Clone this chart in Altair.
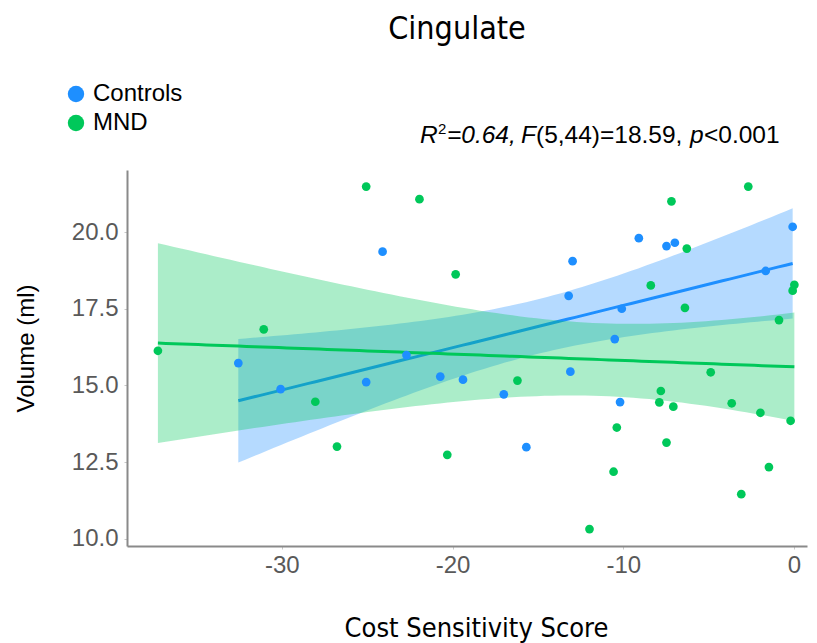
import altair as alt
import numpy as np
import pandas as pd

# ---- data ----
controls_x = [-32.55, -30.07, -25.06, -24.10, -22.70, -20.72, -19.39, -17.00, -15.68, -13.10,
              -13.20, -12.97, -10.09, -10.50, -10.19, -9.09, -7.47, -6.98, -1.66, -0.08]
controls_y = [15.73, 14.88, 15.11, 19.36, 15.99, 15.29, 15.19, 14.71, 12.99, 15.45,
              17.92, 19.05, 17.50, 16.51, 14.46, 19.80, 19.54, 19.65, 18.73, 20.17]
mnd_x = [-25.06, -21.94, -19.82, -31.06, -37.26, -28.04, -26.77, -20.31, -16.20, -7.18,
         -2.68, -6.28, -8.39, -6.39, 0.02, -0.08, -0.88, -4.88, -7.80, -7.89,
         -7.07, -3.65, -1.97, -0.20, -10.38, -7.47, -10.57, -1.47, -3.09, -11.98]
mnd_y = [21.48, 21.07, 18.62, 16.83, 16.13, 14.47, 13.01, 12.74, 15.16, 21.00,
         21.48, 19.46, 18.26, 17.53, 18.28, 18.09, 17.13, 15.43, 14.82, 14.45,
         14.31, 14.42, 14.11, 13.85, 13.63, 13.14, 12.19, 12.34, 11.46, 10.32]
groups = ["Controls", "MND"]
colors = ["#1E8FFF", "#00C85A"]
x_ticks = [-30, -20, -10, 0]
y_ticks = [10.0, 12.5, 15.0, 17.5, 20.0]
title_text = "Cingulate"
annot_segments = ["R", "2", "=0.64,", "F", "(5,44)=18.59,", "p", "<0.001"]
T_CRIT = {18: 2.1009, 28: 2.0484}  # two-sided 95% t critical values


def fit_band(xs, ys, name):
    x = np.asarray(xs, dtype=float)
    y = np.asarray(ys, dtype=float)
    n = len(x)
    b, a = np.polyfit(x, y, 1)
    resid = y - (a + b * x)
    s = np.sqrt((resid ** 2).sum() / (n - 2))
    xm = x.mean()
    sxx = ((x - xm) ** 2).sum()
    grid = np.linspace(x.min(), x.max(), 80)
    fv = a + b * grid
    se = s * np.sqrt(1.0 / n + (grid - xm) ** 2 / sxx)
    t = T_CRIT[n - 2]
    return pd.DataFrame({"x": grid, "fit": fv, "lo": fv - t * se, "hi": fv + t * se, "group": name})


fc = fit_band(controls_x, controls_y, groups[0])
fm = fit_band(mnd_x, mnd_y, groups[1])
pts = pd.DataFrame({
    "x": controls_x + mnd_x,
    "y": controls_y + mnd_y,
    "group": [groups[0]] * len(controls_x) + [groups[1]] * len(mnd_x),
})

xscale = alt.Scale(domain=[-39.07, 0.76], nice=False, zero=False)
yscale = alt.Scale(domain=[9.77, 22.02], nice=False, zero=False)

xaxis = alt.Axis(values=x_ticks, labelExpr="toString(datum.value)", labelFont="Liberation Sans",
                 labelFontSize=24, labelColor="#595959", labelPadding=4, tickSize=3, tickColor="#c8c8c8",
                 domainColor="#8a8a8a", domainWidth=2, grid=False,
                 title="Cost Sensitivity Score", titleFont="DejaVu Sans Condensed", titleFontSize=27,
                 titleFontWeight="normal", titleColor="#000000", titleX=349, titleY=90,
                 titleBaseline="alphabetic", titleAlign="center")
yaxis = alt.Axis(values=y_ticks, format=".1f", labelFont="Liberation Sans", labelFontSize=24,
                 labelColor="#595959", labelPadding=6, tickSize=3, tickColor="#c8c8c8",
                 domainColor="#8a8a8a", domainWidth=2, grid=False,
                 title="Volume (ml)", titleFont="Liberation Sans", titleFontSize=24,
                 titleFontWeight="normal", titleColor="#000000", titleX=-101, titleY=178,
                 titleAngle=-90, titleBaseline="middle", titleAlign="center")

X = alt.X("x:Q", scale=xscale, axis=xaxis)


def band(df, col):
    return alt.Chart(df).mark_area(color=col, opacity=0.33).encode(
        x=X, y=alt.Y("lo:Q", scale=yscale, axis=yaxis), y2="hi:Q")


def line(df, col):
    return alt.Chart(df).mark_line(color=col, strokeWidth=3).encode(
        x=X, y=alt.Y("fit:Q", scale=yscale, axis=yaxis))


points = alt.Chart(pts).mark_circle(size=76, opacity=1).encode(
    x=X,
    y=alt.Y("y:Q", scale=yscale, axis=yaxis),
    color=alt.Color("group:N", scale=alt.Scale(domain=groups, range=colors),
                    legend=alt.Legend(title=None, orient="none", legendX=-63, legendY=-88,
                                      symbolType="circle", symbolSize=270, symbolStrokeWidth=0,
                                      symbolOpacity=1, labelFont="Liberation Sans", labelFontSize=24,
                                      labelColor="#000000", labelOffset=5, rowPadding=5, padding=0)),
)

title_mark = alt.Chart(pd.DataFrame({"t": [title_text]})).mark_text(
    font="DejaVu Sans Condensed", fontSize=32, align="center", baseline="alphabetic", color="#000000"
).encode(text="t:N", x=alt.value(330), y=alt.value(-131))

seg_x = [293, 311, 320, 394, 409, 563, 577]
seg_y = [-27, -36, -27, -27, -27, -27, -27]
seg_italic = [True, False, True, True, False, True, False]
seg_size = [24.5, 15, 24.5, 24.5, 24.5, 24.5, 24.5]
annot_layers = []
for s, sx, sy, it, fs in zip(annot_segments, seg_x, seg_y, seg_italic, seg_size):
    annot_layers.append(
        alt.Chart(pd.DataFrame({"t": [s]})).mark_text(
            font="Liberation Sans", fontSize=fs, fontStyle="italic" if it else "normal",
            align="left", baseline="alphabetic", color="#000000"
        ).encode(text="t:N", x=alt.value(sx), y=alt.value(sy))
    )

chart = alt.layer(
    band(fc, colors[0]), line(fc, colors[0]),
    band(fm, colors[1]), line(fm, colors[1]),
    points, title_mark, *annot_layers
).properties(
    width=680, height=376,
    autosize=alt.AutoSizeParams(type="none"),
    padding={"left": 119, "top": 162, "right": 2, "bottom": 97},
    background="white",
).configure_view(stroke=None)

chart.save("out.html", embed_options={"renderer": "svg", "actions": False})
